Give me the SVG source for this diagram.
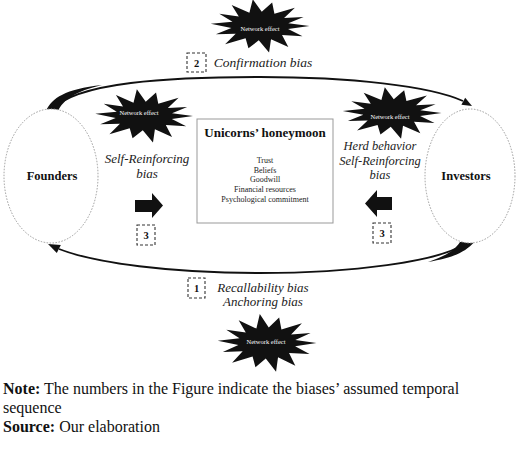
<svg xmlns="http://www.w3.org/2000/svg" width="520" height="449" viewBox="0 0 520 449">
<style>
text{font-family:"Liberation Serif","Times New Roman",serif;fill:#111}
.actor{fill:#fff;stroke:#9a9a9a;stroke-width:1;stroke-dasharray:1.5 1.5}
.actor-t{font-size:12.5px;font-weight:bold;text-anchor:middle}
.bias{font-size:13px;font-style:italic;text-anchor:middle;fill:#222}
.bias-r{font-size:12.5px;font-style:italic;text-anchor:middle;fill:#222}
.num{fill:#fff;stroke:#333;stroke-width:1.1;stroke-dasharray:3 2}
.num-t{font-size:10.5px;font-weight:bold;text-anchor:middle}
.star{fill:#111}
.star-t{font-size:6.5px;fill:#fff;text-anchor:middle}
.item{font-size:8px;text-anchor:middle;fill:#222}
.curve{fill:none;stroke:#111;stroke-width:1.8}
.solid{fill:#111}
.note{font-size:16px;fill:#111}
</style>
<defs>
<polygon id="starShape" points="48,0 27.5,-2.9 42.3,-9.6 23.4,-8.3 33.9,-19.1 14,-13 11.8,-24.8 1.7,-15 -7,-28.1 -10.3,-14 -27.5,-22.1 -20.6,-10.1 -39.5,-12.8 -26.7,-4.5 -47.8,-2.3 -27.8,2 -42.9,8.8 -23.6,8.1 -33.9,19.1 -14,13 -11.2,23.5 -1.2,15 8.8,27.9 10.7,13.9 27.5,22.1 21.4,9.6 41.3,10.8 27.3,3.2"/>
</defs>
<rect width="520" height="449" fill="#fff"/>

<g id="connectors">
<path class="curve" d="M52,110 C75,82 170,77 260,77 C350,77 430,86 463,101"/>
<path class="solid" d="M46,111 C52,98 65,89 102,85 C76,91 63,100 58,111 Z"/>
<polygon class="solid" points="472,106 461.4,104.7 465.2,97.7"/>
<path class="curve" d="M466,243 C440,262 350,273 260,273 C170,273 95,263 59,249"/>
<path class="solid" d="M460,242 L474,242 C466,252 452,258 428,262 C446,256 455,250 460,242 Z"/>
<polygon class="solid" points="48,244 60.8,245 56.8,253"/>
<polygon class="solid" points="135,200 152,200 152,193 163,205.5 152,218 152,212 135,212"/>
<polygon class="solid" points="392,197 377,197 377,190 365,203.5 377,217 377,210 392,210"/>
</g>

<g id="founders">
<ellipse class="actor" cx="51" cy="176" rx="47" ry="67"/>
<text class="actor-t" x="52" y="180">Founders</text>
</g>

<g id="investors">
<ellipse class="actor" cx="470" cy="176" rx="45" ry="67"/>
<text class="actor-t" x="466" y="180">Investors</text>
</g>

<g id="honeymoon">
<rect x="197" y="119" width="136" height="104" fill="#fff" stroke="#999" stroke-width="1"/>
<text x="265" y="137" style="font-size:13px;font-weight:bold;text-anchor:middle">Unicorns’ honeymoon</text>
<text class="item" x="265" y="163">Trust</text>
<text class="item" x="265" y="172.5">Beliefs</text>
<text class="item" x="265" y="182">Goodwill</text>
<text class="item" x="265" y="192">Financial resources</text>
<text class="item" x="265" y="201.5">Psychological commitment</text>
</g>

<g id="star-top">
<use href="#starShape" class="star" transform="translate(260,26) scale(1.03,0.95)"/>
<text class="star-t" x="260" y="31">Network effect</text>
</g>
<g id="star-left">
<use href="#starShape" class="star" transform="translate(144,116) scale(1.02,0.95)"/>
<text class="star-t" x="139" y="115">Network effect</text>
</g>
<g id="star-right">
<use href="#starShape" class="star" transform="translate(392,113) scale(1.03,0.92)"/>
<text class="star-t" x="390" y="119">Network effect</text>
</g>
<g id="star-bottom">
<use href="#starShape" class="star" transform="translate(267,343) scale(1.03,1.03)"/>
<text class="star-t" x="266" y="344">Network effect</text>
</g>

<g id="label-confirmation">
<rect class="num" x="187" y="53" width="19" height="19"/>
<text class="num-t" x="196.5" y="66.5">2</text>
<text class="bias" x="263" y="67" style="font-size:13.5px">Confirmation bias</text>
</g>

<g id="label-left">
<text class="bias" x="147" y="163">Self-Reinforcing</text>
<text class="bias" x="147" y="178">bias</text>
<rect class="num" x="137" y="225" width="18" height="20"/>
<text class="num-t" x="146" y="239">3</text>
</g>

<g id="label-right">
<text class="bias-r" x="380" y="150">Herd behavior</text>
<text class="bias-r" x="380" y="164.5">Self-Reinforcing</text>
<text class="bias-r" x="380" y="179">bias</text>
<rect class="num" x="373" y="223" width="18" height="20"/>
<text class="num-t" x="382" y="237">3</text>
</g>

<g id="label-bottom">
<rect class="num" x="188" y="278" width="17" height="20"/>
<text class="num-t" x="196.5" y="292">1</text>
<text class="bias" x="263" y="292">Recallability bias</text>
<text class="bias" x="263" y="306">Anchoring bias</text>
</g>

<g id="note">
<text class="note" x="3" y="394"><tspan font-weight="bold">Note:</tspan> The numbers in the Figure indicate the biases’ assumed temporal</text>
<text class="note" x="3" y="413">sequence</text>
<text class="note" x="3" y="432"><tspan font-weight="bold">Source:</tspan> Our elaboration</text>
</g>
</svg>
